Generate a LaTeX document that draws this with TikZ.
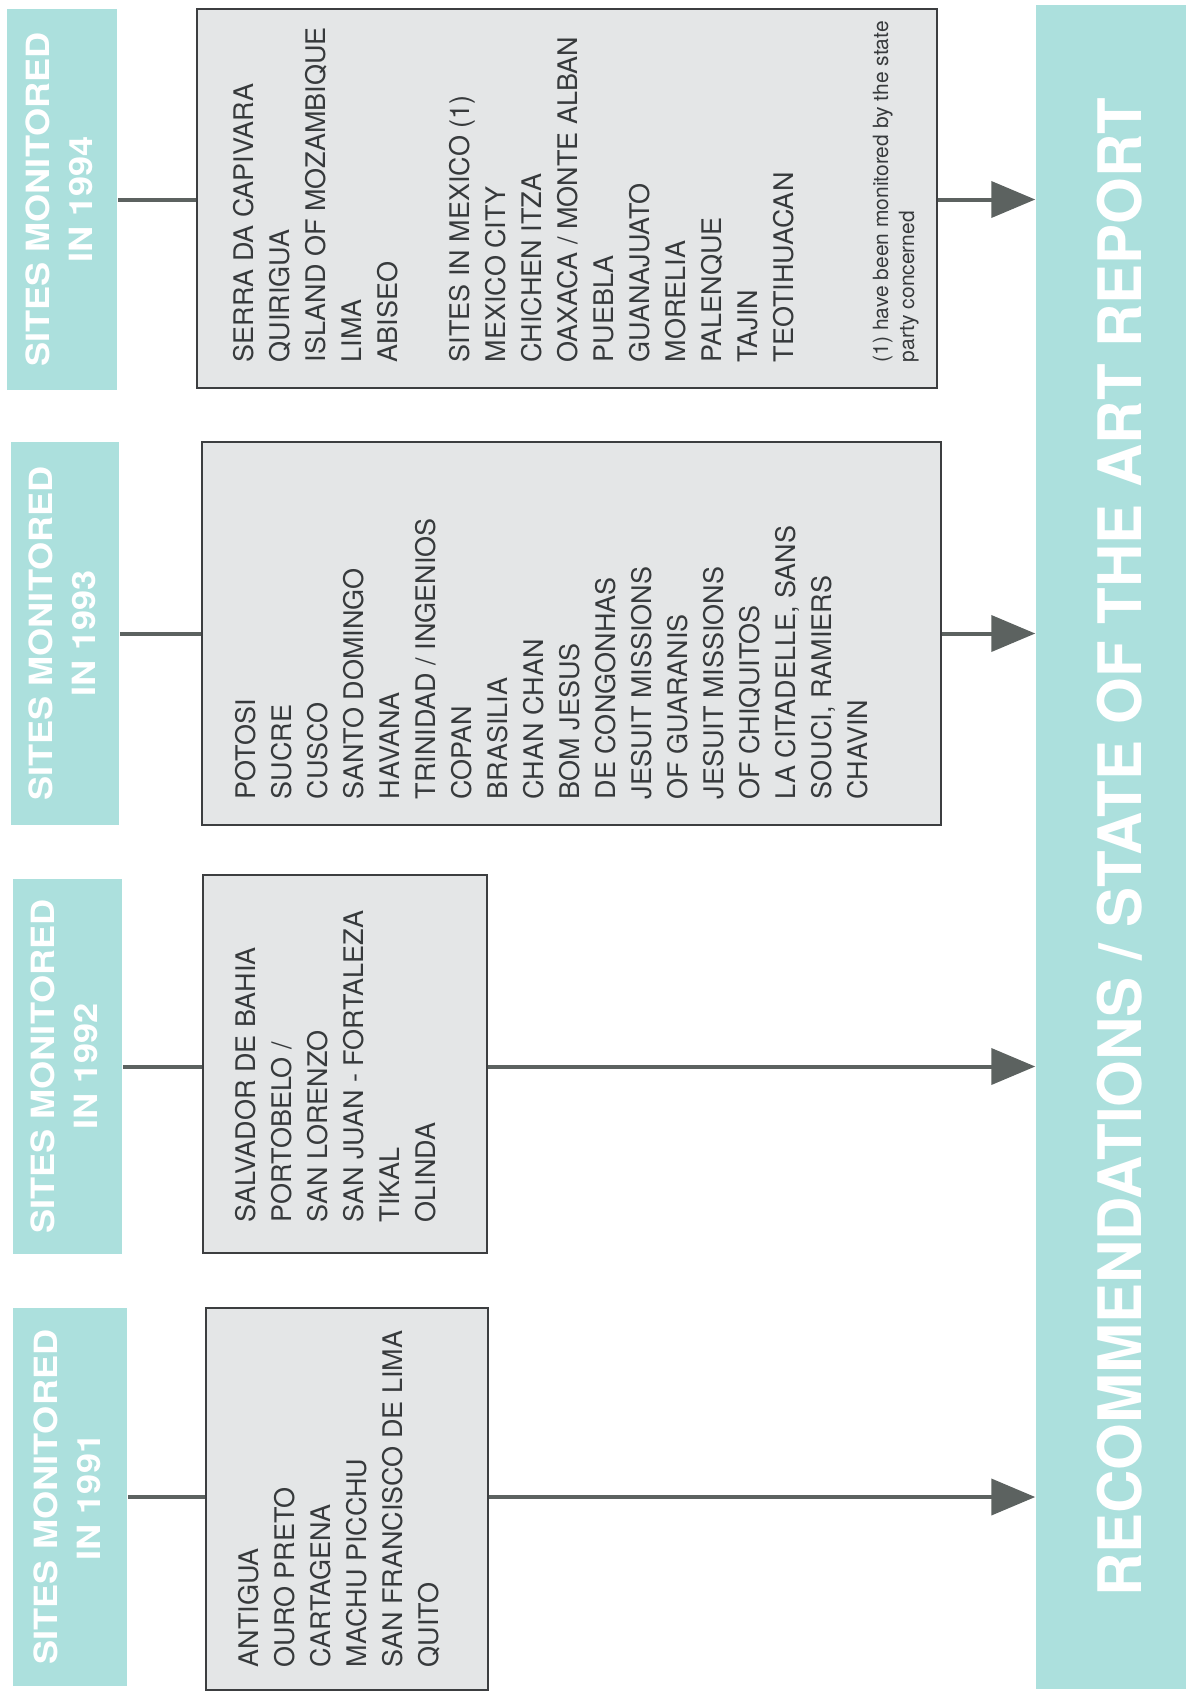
\documentclass[tikz,border=0pt]{standalone}
\usepackage{fontspec}
\setmainfont{TeX Gyre Heros}
\usepackage{graphicx}
\usetikzlibrary{arrows.meta}

\newcommand{\yearhead}[1]{\rotatebox{90}{\scalebox{1.13}[1]{\begin{tabular}{@{}c@{}}SITES MONITORED\\IN #1\end{tabular}}}}

\tikzset{every picture/.style={line width=0.75pt}}
\tikzset{
  headbox/.style={fill={rgb, 255:red, 172; green, 224; blue, 221 }, inner sep=0pt, text=white, font=\bfseries\fontsize{16}{21.5}\selectfont},
  sitebox/.style={draw={rgb, 255:red, 60; green, 62; blue, 64 }, line width=1pt, fill={rgb, 255:red, 228; green, 230; blue, 231 }, inner sep=0pt},
  sitelist/.style={rotate=90, align=left, inner sep=0pt, anchor=north west, text={rgb, 255:red, 55; green, 58; blue, 60 }, font=\fontsize{13.5}{18}\selectfont},
  link/.style={draw={rgb, 255:red, 92; green, 98; blue, 96 }, line width=2pt},
  feed/.style={link, -{Triangle[length=22pt,width=18pt]}}
}

\begin{document}
\begin{tikzpicture}[x=0.5pt,y=0.5pt,yscale=-1,xscale=1]
\useasboundingbox (0,0) rectangle (1188,1692);

%Headers
\node [headbox, minimum width=55pt, minimum height=190.5pt] (hd94) at (62,199.5) {\yearhead{1994}};
\node [headbox, minimum width=54pt, minimum height=191.5pt] (hd93) at (65,633.5) {\yearhead{1993}};
\node [headbox, minimum width=54.5pt, minimum height=187.5pt] (hd92) at (67.5,1066.5) {\yearhead{1992}};
\node [headbox, minimum width=57pt, minimum height=189pt] (hd91) at (70,1497) {\yearhead{1991}};

%Site boxes
\node [sitebox, minimum width=370pt, minimum height=189.5pt] (bx94) at (567,198.5) {};
\node [sitebox, minimum width=369.5pt, minimum height=191.5pt] (bx93) at (571.5,633.5) {};
\node [sitebox, minimum width=142pt, minimum height=189pt] (bx92) at (345,1064) {};
\node [sitebox, minimum width=141pt, minimum height=191pt] (bx91) at (347,1499) {};

%Report
\node [fill={rgb, 255:red, 172; green, 224; blue, 221 }, inner sep=0pt, minimum width=75pt, minimum height=842pt] (rec) at (1111,847) {};
\node [rotate=90, inner sep=0pt, text=white, font=\bfseries\fontsize{30}{36}\selectfont] (title) at (1120,847) {RECOMMENDATIONS / STATE OF THE ART REPORT};

%Site lists
\node [sitelist] (ls94) at (233,363) {SERRA DA CAPIVARA\\QUIRIGUA\\ISLAND OF MOZAMBIQUE\\LIMA\\ABISEO\\[18pt]SITES IN MEXICO (1)\\MEXICO CITY\\CHICHEN ITZA\\OAXACA / MONTE ALBAN\\PUEBLA\\GUANAJUATO\\MORELIA\\PALENQUE\\TAJIN\\TEOTIHUACAN};
\node [sitelist, font=\fontsize{10.5}{13}\selectfont] (fn94) at (872,363) {(1) have been monitored by the state\\party concerned};
\node [sitelist] (ls93) at (235,800) {POTOSI\\SUCRE\\CUSCO\\SANTO DOMINGO\\HAVANA\\TRINIDAD / INGENIOS\\COPAN\\BRASILIA\\CHAN CHAN\\BOM JESUS\\DE CONGONHAS\\JESUIT MISSIONS\\OF GUARANIS\\JESUIT MISSIONS\\OF CHIQUITOS\\LA CITADELLE, SANS\\SOUCI, RAMIERS\\CHAVIN};
\node [sitelist] (ls92) at (235,1223) {SALVADOR DE BAHIA\\PORTOBELO /\\SAN LORENZO\\SAN JUAN - FORTALEZA\\TIKAL\\OLINDA};
\node [sitelist] (ls91) at (238,1668) {ANTIGUA\\OURO PRETO\\CARTAGENA\\MACHU PICCHU\\SAN FRANCISCO DE LIMA\\QUITO};

%Connectors
\draw [link] (hd94.east) -- (bx94.west |- hd94.east) ;
\draw [link] (hd93.east) -- (bx93.west |- hd93.east) ;
\draw [link] (hd92.east) -- (bx92.west |- hd92.east) ;
\draw [link] (hd91.east) -- (bx91.west |- hd91.east) ;
\draw [feed] (bx94.east |- hd94.east) -- (rec.west |- hd94.east) ;
\draw [feed] (bx93.east |- hd93.east) -- (rec.west |- hd93.east) ;
\draw [feed] (bx92.east |- hd92.east) -- (rec.west |- hd92.east) ;
\draw [feed] (bx91.east |- hd91.east) -- (rec.west |- hd91.east) ;

\end{tikzpicture}
\end{document}
